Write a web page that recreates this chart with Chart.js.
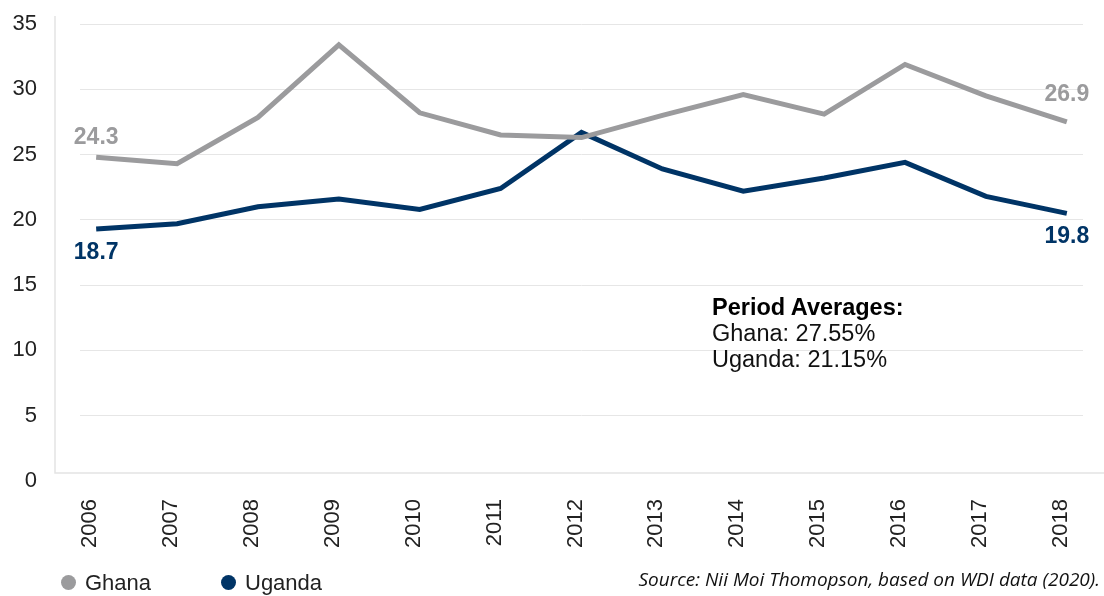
<!DOCTYPE html>
<html>
<head>
<meta charset="utf-8">
<script src="https://cdn.jsdelivr.net/npm/chart.js@4"></script>
<style>
  html, body { margin: 0; padding: 0; background: #fff; }
  #wrap { position: relative; width: 1104px; height: 596px; overflow: hidden; }
  #chart { position: absolute; left: 0; top: 0; }
  .note { position: absolute; left: 712px; top: 294px; font: 23.5px/26px "Liberation Sans", Arial, sans-serif; color: #111; }
  .note b { color: #000; }
  .dot { position: absolute; width: 15px; height: 15px; border-radius: 50%; top: 575px; }
  .leg { position: absolute; top: 572px; font: 22px/22px "Liberation Sans", Arial, sans-serif; color: #222; }
  .source { position: absolute; right: 4px; top: 570px; font: italic 19px/19px "Open Sans", sans-serif; color: #111; white-space: nowrap; }
</style>
</head>
<body>
<div id="wrap">
  <canvas id="chart" width="1104" height="596"></canvas>
  <div class="note"><b>Period Averages:</b><br>Ghana: 27.55%<br>Uganda: 21.15%</div>
  <span class="dot" style="left:61px;background:#9b9b9d"></span><span class="leg" style="left:85px">Ghana</span>
  <span class="dot" style="left:221px;background:#003466"></span><span class="leg" style="left:245px">Uganda</span>
  <div class="source">Source: Nii Moi Thomopson, based on WDI data (2020).</div>
</div>
<script>
const years = [2006, 2007, 2008, 2009, 2010, 2011, 2012, 2013, 2014, 2015, 2016, 2017, 2018];
const ghana = [24.8, 24.3, 27.85, 33.4, 28.2, 26.5, 26.3, 28.0, 29.6, 28.1, 31.9, 29.5, 27.5];
const uganda = [19.3, 19.7, 21.0, 21.6, 20.8, 22.4, 26.7, 23.9, 22.2, 23.2, 24.4, 21.8, 20.5];
// end labels as printed on the chart
const ghanaEnds = ['24.3', '26.9'];
const ugandaEnds = ['18.7', '19.8'];
const yTicks = [0, 5, 10, 15, 20, 25, 30, 35];

const grey = '#9b9b9d';
const navy = '#003466';
const tickFont = { family: 'Liberation Sans', size: 22 };

// light frame that sits a bit outside the plot, like the original export
const framePlugin = {
    id: 'frame',
    beforeDraw(chart) {
        const { ctx, chartArea } = chart;
        const x0 = chartArea.left - 25;
        const yb = chartArea.bottom - 8;
        ctx.save();
        ctx.strokeStyle = '#e4e4e4';
        ctx.lineWidth = 1.5;
        ctx.beginPath();
        ctx.moveTo(x0, chartArea.top - 8);
        ctx.lineTo(x0, yb);
        ctx.lineTo(chart.width, yb);
        ctx.stroke();
        ctx.restore();
    }
};

// value labels at the first and last points
const endLabels = {
    id: 'endLabels',
    afterDatasetsDraw(chart) {
        const ctx = chart.ctx;
        const specs = [
            { ds: 0, texts: ghanaEnds, color: grey, dy: [-20, -27] },
            { ds: 1, texts: ugandaEnds, color: navy, dy: [24, 23] }
        ];
        ctx.save();
        ctx.font = 'bold 23px "Liberation Sans", Arial, sans-serif';
        ctx.textAlign = 'center';
        ctx.textBaseline = 'middle';
        specs.forEach(s => {
            const pts = chart.getDatasetMeta(s.ds).data;
            const ends = [pts[0], pts[pts.length - 1]];
            ends.forEach((p, i) => {
                ctx.fillStyle = s.color;
                ctx.fillText(s.texts[i], p.x, p.y + s.dy[i]);
            });
        });
        ctx.restore();
    }
};

new Chart(document.getElementById('chart'), {
    type: 'line',
    data: {
        datasets: [{
            label: 'Ghana',
            data: years.map((y, i) => ({ x: y, y: ghana[i] })),
            borderColor: grey,
            backgroundColor: grey,
            borderWidth: 5,
            pointRadius: 0,
            tension: 0
        }, {
            label: 'Uganda',
            data: years.map((y, i) => ({ x: y, y: uganda[i] })),
            borderColor: navy,
            backgroundColor: navy,
            borderWidth: 5,
            pointRadius: 0,
            tension: 0
        }]
    },
    options: {
        responsive: false,
        animation: false,
        layout: { padding: { left: 0, right: 21, top: 24, bottom: 0 } },
        plugins: {
            legend: { display: false },
            tooltip: { enabled: false }
        },
        scales: {
            x: {
                type: 'linear',
                min: 2005.8,
                max: 2018.2,
                grid: { display: false },
                border: { display: false },
                ticks: {
                    stepSize: 1,
                    includeBounds: false,
                    autoSkip: false,
                    minRotation: 90,
                    maxRotation: 90,
                    padding: 10,
                    labelOffset: -6,
                    color: '#222',
                    font: tickFont,
                    callback: v => String(v)
                },
                afterFit: s => { s.height = 115; }
            },
            y: {
                min: 0,
                max: 35,
                afterBuildTicks: s => { s.ticks = yTicks.map(v => ({ value: v })); },
                grid: {
                    drawTicks: false,
                    lineWidth: 1,
                    color: c => (c.tick && c.tick.value === 0) ? 'rgba(0,0,0,0)' : '#e6e6e6'
                },
                border: { display: false },
                ticks: { padding: 43, color: '#222', font: tickFont },
                // big label padding would otherwise push the plot down
                afterFit: s => { s.width = 80; s.paddingTop = 0; s.paddingBottom = 0; }
            }
        }
    },
    plugins: [framePlugin, endLabels]
});
</script>
</body>
</html>
